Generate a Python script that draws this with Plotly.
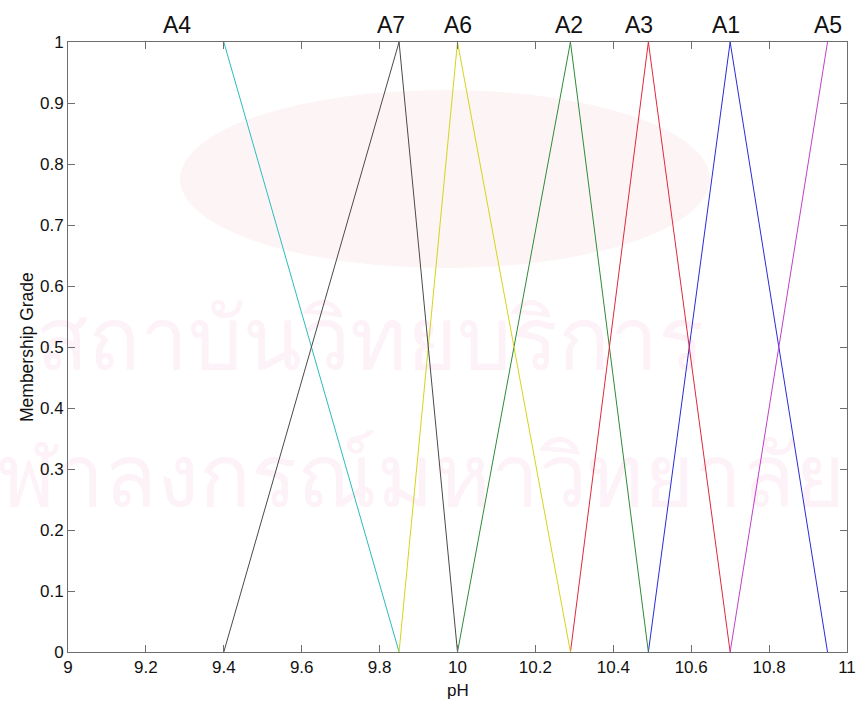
import plotly.graph_objects as go

# Membership function break points (pH) and grades
names = ["A1", "A2", "A3", "A4", "A5", "A6", "A7"]
mf_x = {
    "A1": [10.49, 10.70, 10.95],
    "A2": [10.00, 10.29, 10.49],
    "A3": [10.29, 10.49, 10.70],
    "A4": [9.40, 9.85],
    "A5": [10.70, 10.95],
    "A6": [9.85, 10.00, 10.29],
    "A7": [9.40, 9.85, 10.00],
}
mf_y = {
    "A1": [0, 1, 0],
    "A2": [0, 1, 0],
    "A3": [0, 1, 0],
    "A4": [1, 0],
    "A5": [0, 1],
    "A6": [0, 1, 0],
    "A7": [0, 1, 0],
}
colors = {
    "A1": "#2a2ad8",
    "A2": "#2f8a3a",
    "A3": "#e0283c",
    "A4": "#2cbcbc",
    "A5": "#c040c8",
    "A6": "#d6d41a",
    "A7": "#4a4a4a",
}
# x position of each set's name above the axes
label_x = {"A4": 9.28, "A7": 9.83, "A6": 10.0, "A2": 10.285,
           "A3": 10.465, "A1": 10.69, "A5": 10.95}

x_ticks = [9 + 0.2 * i for i in range(11)]
y_ticks = [0.1 * i for i in range(11)]

X_RANGE = [9, 11]
Y_RANGE = [0, 1]

FONT = "Liberation Sans, Arial, Helvetica, sans-serif"
AXIS = "#6e6e6e"
L, R, T, B = 68, 847, 42, 652
PW, PH = R - L, B - T


def px(xp):
    return (xp - L) / PW


def py(yp):
    return (B - yp) / PH


def to_x(xp):
    return X_RANGE[0] + px(xp) * (X_RANGE[1] - X_RANGE[0])


def to_y(yp):
    return Y_RANGE[0] + py(yp) * (Y_RANGE[1] - Y_RANGE[0])


fig = go.Figure()

# faint watermark text, kept behind the curves and the axes
wm = "#fcf2f7"
wm_font = "Noto Sans, DejaVu Sans, sans-serif"
fig.add_trace(go.Scatter(
    x=[to_x(370)], y=[to_y(347)], mode="text", text=["สถาบันวิทยบริการ"],
    textposition="middle center", cliponaxis=False,
    textfont=dict(family=wm_font, size=86, color=wm),
    showlegend=False, hoverinfo="skip",
))
fig.add_trace(go.Scatter(
    x=[to_x(845)], y=[to_y(484)], mode="text", text=["จุฬาลงกรณ์มหาวิทยาลัย"],
    textposition="middle left", cliponaxis=False,
    textfont=dict(family=wm_font, size=86, color=wm),
    showlegend=False, hoverinfo="skip",
))

for n in names:
    fig.add_trace(go.Scatter(
        x=mf_x[n], y=mf_y[n], mode="lines",
        line=dict(color=colors[n], width=1),
        showlegend=False, hoverinfo="skip",
    ))

annotations = []
for n in ["A4", "A7", "A6", "A2", "A3", "A1", "A5"]:
    annotations.append(dict(
        x=label_x[n], y=1, xref="x", yref="paper", text=n, showarrow=False,
        xanchor="center", yanchor="middle", yshift=17,
        font=dict(family=FONT, size=23, color="#111111"),
    ))

# axis titles
annotations.append(dict(
    x=px(27), y=0.5, xref="paper", yref="paper", text="Membership Grade",
    textangle=-90, showarrow=False, xanchor="center", yanchor="middle",
    font=dict(family=FONT, size=17.5, color="#111111"),
))
annotations.append(dict(
    x=0.5, y=py(690), xref="paper", yref="paper", text="pH",
    showarrow=False, xanchor="center", yanchor="middle",
    font=dict(family=FONT, size=17, color="#111111"),
))

fig.update_layout(
    width=857, height=701,
    margin=dict(l=L, r=857 - R, t=T, b=701 - B, autoexpand=False),
    paper_bgcolor="white", plot_bgcolor="rgba(0,0,0,0)",
    annotations=annotations,
    shapes=[dict(
        type="circle", xref="paper", yref="paper", layer="below",
        x0=px(180), x1=px(710), y0=py(268), y1=py(90),
        fillcolor="#fdf5f5", line=dict(width=0),
    )],
)
axis_common = dict(
    showgrid=False, zeroline=False, showline=True, linecolor=AXIS, linewidth=1,
    mirror="ticks", ticks="inside", ticklen=7, tickcolor=AXIS, tickwidth=1,
    automargin=False, layer="above traces",
    tickfont=dict(family=FONT, size=17, color="#111111"),
)
fig.update_xaxes(range=X_RANGE, tickvals=x_ticks,
                 ticktext=[f"{v:g}" for v in x_ticks], **axis_common)
fig.update_yaxes(range=Y_RANGE, tickvals=y_ticks,
                 ticktext=[f"{round(v, 1):g}" for v in y_ticks], **axis_common)

fig.write_html("out.html")
